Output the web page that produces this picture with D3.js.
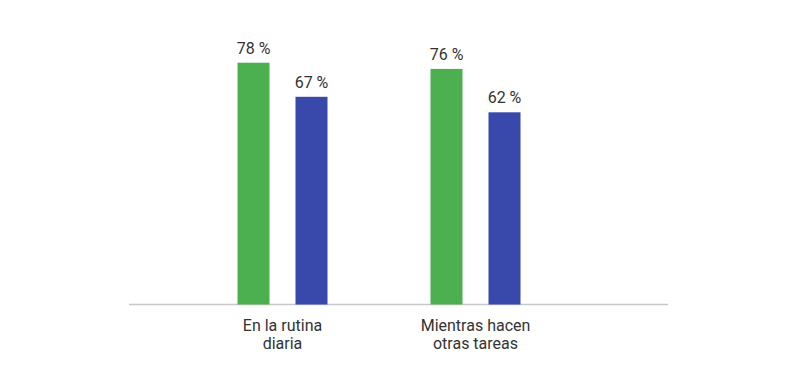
<!DOCTYPE html>
<html><head><meta charset="utf-8">
<script src="https://cdn.jsdelivr.net/npm/d3@7"></script>
<style>body{margin:0;background:#fff}svg{display:block;font-family:Roboto,"Noto Sans",sans-serif}</style>
</head><body>
<svg id="chart" width="800" height="384"></svg>
<script>
const categories = [["En la rutina", "diaria"], ["Mientras hacen", "otras tareas"]];
const categoryKeys = ["rutina", "tareas"];
const seriesNames = ["A", "B"];
const seriesA = [78, 76];
const seriesB = [67, 62];
const colors = ["#4CAF50", "#3949AB"];

const svg = d3.select("#chart");
const baseY = 304.5;
const y = d3.scaleLinear().domain([0, 100]).range([baseY, baseY - 310]);
const x0 = d3.scaleBand().domain(categoryKeys).range([186, 572]).padding(0);
const x1 = d3.scaleBand().domain(seriesNames).range([-45, 45]).paddingInner(26/58).paddingOuter(0);

const data = categoryKeys.map((k, i) => ({key: k, label: categories[i], values: [seriesA[i], seriesB[i]]}));

svg.append("line").attr("x1", 129).attr("x2", 668).attr("y1", baseY).attr("y2", baseY)
  .attr("stroke", "#c8c8c8").attr("stroke-width", 1.5);

const g = svg.selectAll("g.grp").data(data).enter().append("g")
  .attr("transform", d => `translate(${x0(d.key) + x0.bandwidth()/2},0)`);

g.selectAll("rect").data(d => d.values.map((v, j) => ({s: seriesNames[j], v, c: colors[j]})))
  .enter().append("rect")
  .attr("x", d => x1(d.s)).attr("width", x1.bandwidth())
  .attr("y", d => y(d.v)).attr("height", d => baseY - y(d.v))
  .attr("fill", d => d.c);

g.selectAll("text.val").data(d => d.values.map((v, j) => ({s: seriesNames[j], v})))
  .enter().append("text").attr("class", "val")
  .attr("x", d => x1(d.s) + x1.bandwidth()/2).attr("y", d => y(d.v) - 9)
  .attr("text-anchor", "middle").attr("font-size", 16).attr("fill", "#333")
  .text(d => d.v + " %");

g.each(function(d) {
  const t = d3.select(this).append("text").attr("text-anchor", "middle")
    .attr("font-size", 16).attr("fill", "#333");
  d.label.forEach((line, i) => {
    t.append("tspan").attr("x", 0).attr("y", 331 + i * 17.5).text(line);
  });
});
</script>
</body></html>
